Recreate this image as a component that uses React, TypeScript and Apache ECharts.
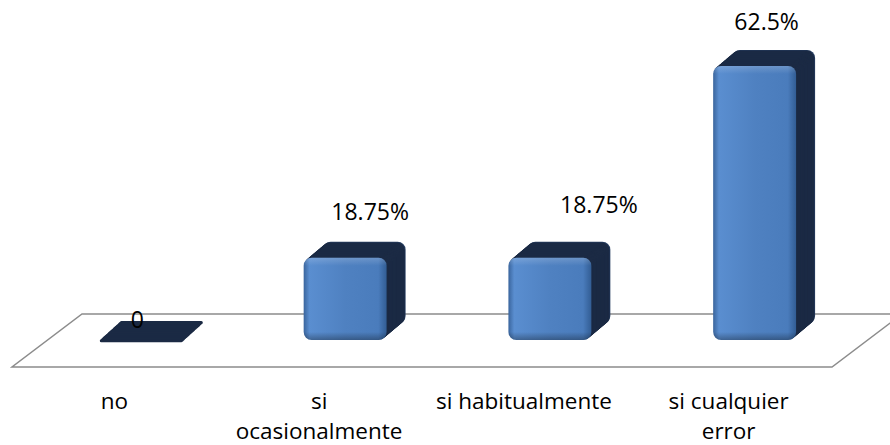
import React, { useEffect, useRef } from "react";
import * as echarts from "echarts";

const categories = ["no", "si\nocasionalmente", "si habitualmente", "si cualquier\nerror"];
const values = [0, 18.75, 18.75, 62.5];
const valueLabels = ["0", "18.75%", "18.75%", "62.5%"];

// label shift relative to the front-top centre of each bar (style only)
const labelShift: [number, number][] = [
  [-3, -21],
  [25, -47],
  [49, -54],
  [12, -45],
];

const FONT = '"Open Sans", "Noto Sans", sans-serif';

export default function App() {
  const ref = useRef<HTMLDivElement>(null);
  useEffect(() => {
    if (!ref.current) return;
    const chart = echarts.init(ref.current, null, { renderer: "svg" });
    const DX = 19;
    const DY = -16;
    const STEPS = 24;
    const option: any = {
      animation: false,
      backgroundColor: "#ffffff",
      grid: { left: 12, right: 59, top: 33, bottom: 97 },
      xAxis: {
        type: "category",
        data: categories,
        axisLine: { show: false },
        axisTick: { show: false },
        splitLine: { show: false },
        axisLabel: {
          interval: 0,
          margin: 45,
          fontSize: 22.5,
          lineHeight: 30,
          fontFamily: FONT,
          color: "#000000",
        },
      },
      yAxis: { type: "value", min: 0, max: 70, show: false },
      graphic: [
        {
          type: "polygon",
          z: 0,
          silent: true,
          shape: {
            points: [
              [82, 314],
              [950, 314],
              [902, 314],
              [832, 367],
              [12, 367],
            ],
          },
          style: { fill: "#ffffff", stroke: "#8c8c8c", lineWidth: 1.5 },
        },
      ],
      series: [
        {
          type: "custom",
          coordinateSystem: "cartesian2d",
          clip: false,
          z: 5,
          encode: { x: 0, y: 1 },
          data: values.map((v, i) => [i, v]),
          renderItem: (params: any, api: any) => {
            const idx = api.value(0);
            const v = api.value(1);
            const top = api.coord([idx, v]);
            const base = api.coord([idx, 0]);
            const band = api.size([1, 0])[0];
            const w = band * 0.405;
            const cx = base[0] + band * 0.127;
            const x0 = cx - w / 2;
            let h = base[1] - top[1];
            const flat = h < 4;
            if (flat) h = 3;
            const yBase = flat ? base[1] + 3 : base[1];
            const yTop = yBase - h;
            const r = Math.min(8, h / 2);
            const dx = flat ? 21 : DX;
            const dy = flat ? -19 : DY;
            const children: any[] = [];
            for (let s = STEPS; s >= 1; s--) {
              const t = s / STEPS;
              children.push({
                type: "rect",
                shape: { x: x0 + dx * t, y: yTop + dy * t, width: w, height: h, r },
                style: { fill: s === STEPS && !flat ? "#243b5e" : "#1b2a44" },
              });
            }
            if (!flat) {
              children.push({
                type: "rect",
                shape: { x: x0, y: yTop, width: w, height: h, r },
                style: {
                  fill: new echarts.graphic.LinearGradient(0, 0, 1, 0, [
                    { offset: 0, color: "#3a659d" },
                    { offset: 0.07, color: "#5a8ed0" },
                    { offset: 0.5, color: "#4f81c1" },
                    { offset: 0.9, color: "#4a7cbc" },
                    { offset: 1, color: "#325d94" },
                  ]),
                },
              });
              children.push({
                type: "rect",
                shape: { x: x0, y: yTop, width: w, height: h, r },
                style: {
                  fill: new echarts.graphic.LinearGradient(0, 0, 0, 1, [
                    { offset: 0, color: "rgba(255,255,255,0.18)" },
                    { offset: Math.min(0.5, 8 / h), color: "rgba(255,255,255,0)" },
                    { offset: Math.max(0.5, 1 - 8 / h), color: "rgba(0,0,0,0)" },
                    { offset: 1, color: "rgba(0,0,0,0.3)" },
                  ]),
                },
              });
            }
            const sh = labelShift[idx] || [20, -48];
            children.push({
              type: "text",
              style: {
                text: valueLabels[idx],
                x: cx + sh[0],
                y: yTop + sh[1],
                align: "center",
                verticalAlign: "middle",
                font: `23px ${FONT}`,
                fill: "#000000",
              },
            });
            return { type: "group", children };
          },
        },
      ],
    };
    chart.setOption(option);
    return () => chart.dispose();
  }, []);
  return (
    <div
      ref={ref}
      style={{ position: "fixed", left: 0, top: 0, width: 890, height: 445 }}
    />
  );
}
